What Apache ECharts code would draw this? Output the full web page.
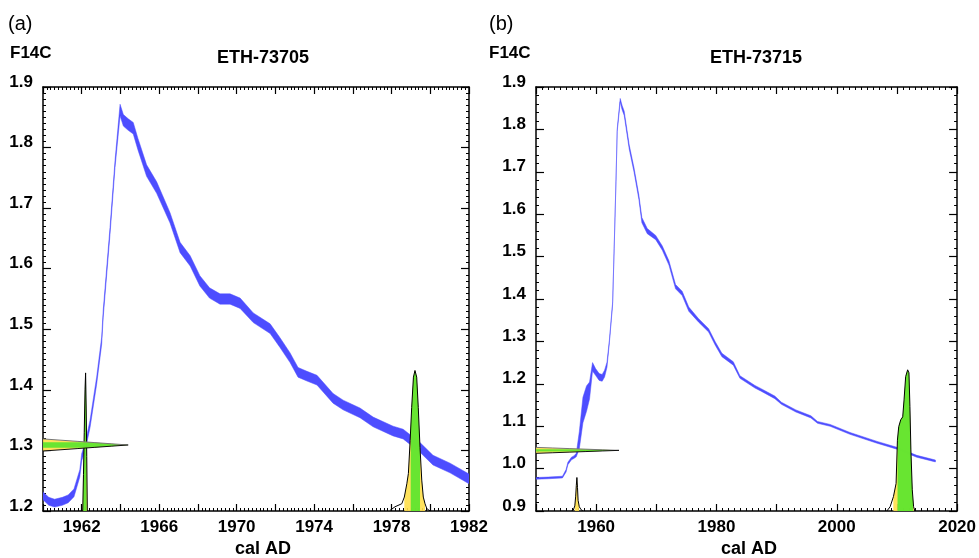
<!DOCTYPE html>
<html><head><meta charset="utf-8">
<script src="https://cdn.jsdelivr.net/npm/echarts@6/dist/echarts.min.js"></script>
<style>html,body{margin:0;padding:0;background:#fff}#c{width:979px;height:558px}</style>
</head><body><div id="c"></div>
<script>
// ---------- Panel (a): ETH-73705 ----------
const curveA_year = [1960.0,1960.3,1960.6,1961.0,1961.3,1961.6,1961.9,1962.0,1962.2,1962.43,1962.77,1963.03,1963.11,1963.46,1963.72,1963.98,1964.15,1964.4,1964.66,1964.9,1965.35,1965.87,1966.56,1967.08,1967.6,1968.1,1968.6,1969.14,1969.66,1970.18,1970.86,1971.73,1972.24,1972.76,1973.17,1973.6,1974.15,1974.98,1975.5,1976.37,1977.05,1978.08,1978.6,1979.47,1980.14,1981.02,1982.0];
const curveA_F    = [1.225,1.216,1.213,1.216,1.220,1.230,1.262,1.289,1.309,1.344,1.415,1.481,1.526,1.662,1.773,1.862,1.845,1.838,1.832,1.806,1.762,1.734,1.684,1.635,1.613,1.580,1.560,1.550,1.550,1.543,1.519,1.501,1.478,1.453,1.429,1.423,1.416,1.386,1.375,1.362,1.347,1.332,1.327,1.305,1.284,1.271,1.253];
const curveA_half = [0.0065,0.0065,0.0065,0.0065,0.0065,0.0065,0.006,0.006,0.006,0.006,0.006,0.006,0.006,0.006,0.006,0.0095,0.0095,0.0095,0.0095,0.0095,0.0095,0.0095,0.0085,0.0085,0.0085,0.0085,0.0085,0.0085,0.0085,0.0085,0.008,0.008,0.008,0.008,0.008,0.008,0.008,0.008,0.008,0.008,0.008,0.008,0.008,0.008,0.008,0.008,0.008];
// measured F14C (horizontal distribution): F values and extent in years from axis start
const measA_F   = [1.2990,1.3010,1.3030,1.3050,1.3070,1.3090,1.3110,1.3130,1.3150,1.3170,1.3190];
const measA_ext = [0.0,0.88,1.76,2.64,3.52,4.4,3.52,2.64,1.76,0.88,0.0];
const measA_green = [1.3045,1.3135];
// calibrated distributions
const calA1_year = [1962.05,1962.09,1962.13,1962.17,1962.20,1962.23,1962.26,1962.29];
const calA1_F    = [1.200,1.260,1.330,1.400,1.428,1.370,1.290,1.200];
const calA1_yellow = [1962.05,1962.29];
const calA1_green  = [1962.07,1962.25];
const calA2_year = [1977.92,1978.18,1978.53,1978.66,1978.79,1978.87,1978.96,1979.04,1979.13,1979.21,1979.30,1979.38,1979.47,1979.56,1979.64,1979.73,1979.82,1979.99];
const calA2_F    = [1.201,1.207,1.212,1.223,1.245,1.262,1.316,1.371,1.421,1.432,1.421,1.371,1.305,1.251,1.223,1.212,1.204,1.200];
const calA2_yellow = [1978.66,1979.73];
const calA2_green  = [1978.99,1979.47];

// ---------- Panel (b): ETH-73715 ----------
const curveB_year = [1950.0,1952.0,1954.4,1955.0,1955.3,1955.9,1956.3,1956.7,1957.2,1957.8,1958.4,1958.9,1959.4,1959.9,1960.5,1961.0,1961.4,1961.8,1962.2,1962.74,1963.0,1963.3,1963.5,1964.0,1964.3,1964.66,1965.5,1966.3,1967.1,1967.6,1968.5,1969.9,1971.0,1972.1,1973.2,1974.3,1975.4,1977.0,1978.7,1979.8,1980.9,1982.8,1983.9,1986.4,1987.5,1989.7,1990.8,1993.2,1995.7,1996.8,1998.9,2002.2,2006.7,2010.0,2013.3,2016.4];
const curveB_F    = [0.977,0.978,0.980,0.995,1.012,1.024,1.027,1.032,1.067,1.138,1.165,1.184,1.240,1.228,1.216,1.214,1.224,1.245,1.300,1.390,1.522,1.680,1.798,1.869,1.852,1.838,1.758,1.704,1.640,1.586,1.560,1.545,1.520,1.485,1.429,1.413,1.376,1.350,1.326,1.295,1.268,1.248,1.216,1.193,1.185,1.168,1.154,1.136,1.122,1.109,1.102,1.083,1.062,1.048,1.029,1.018];
const curveB_half = [0.002,0.002,0.002,0.003,0.003,0.003,0.003,0.004,0.02,0.03,0.03,0.02,0.01,0.008,0.008,0.008,0.008,0.006,0.003,0.003,0.003,0.003,0.003,0.004,0.005,0.005,0.005,0.005,0.005,0.006,0.006,0.005,0.005,0.005,0.005,0.005,0.005,0.004,0.004,0.004,0.004,0.004,0.003,0.003,0.003,0.003,0.0025,0.0025,0.0025,0.0022,0.0022,0.0022,0.0022,0.0022,0.0022,0.0022];
const measB_F   = [1.0360,1.0374,1.0388,1.0402,1.0416,1.0430,1.0444,1.0458,1.0472,1.0486,1.0500];
const measB_ext = [0.0,2.8,5.5,8.3,11.0,13.8,11.0,8.3,5.5,2.8,0.0];
const measB_green = [1.0404,1.0456];
const calB1_year = [1955.9,1956.2,1956.45,1956.6,1956.7,1956.8,1956.9,1957.0,1957.2,1957.5,1957.8];
const calB1_F    = [0.900,0.902,0.912,0.935,0.960,0.979,0.955,0.925,0.910,0.903,0.900];
const calB1_yellow = [1956.45,1957.15];
const calB2_year = [2008.32,2008.87,2009.42,2009.86,2010.08,2010.30,2010.63,2010.96,2011.18,2011.45,2011.78,2012.0,2012.16,2012.32,2012.55,2012.77,2012.99];
const calB2_F    = [0.900,0.910,0.934,0.965,1.067,1.099,1.115,1.122,1.162,1.217,1.233,1.226,1.146,1.044,0.950,0.910,0.900];
const calB2_yellow = [2009.4,2012.8];
const calB2_green  = [2010.1,2012.7];

// tick labels
const xLabelsA = [1962,1966,1970,1974,1978,1982];
const xLabelsB = [1960,1980,2000,2020];

const BLUE = '#4d4dff', YELLOW = '#ffdf4a', GREEN = '#58e62c';
const FONT = '"Liberation Sans", Arial, Helvetica, sans-serif';

function interp(xs, ys, x) {
  for (let i = 0; i < xs.length - 1; i++) {
    if (x >= xs[i] && x <= xs[i + 1]) {
      const t = (x - xs[i]) / (xs[i + 1] - xs[i]);
      return ys[i] + t * (ys[i + 1] - ys[i]);
    }
  }
  return x < xs[0] ? ys[0] : ys[ys.length - 1];
}
function slice(xs, ys, a, b) {
  const pts = [[a, interp(xs, ys, a)]];
  for (let i = 0; i < xs.length; i++) if (xs[i] > a && xs[i] < b) pts.push([xs[i], ys[i]]);
  pts.push([b, interp(xs, ys, b)]);
  return pts;
}

function bandSeries(ai, years, F, half) {
  return {
    type: 'custom', xAxisIndex: ai, yAxisIndex: ai, clip: true, silent: true, z: 2,
    data: [[years[0], F[0]]],
    renderItem: (params, api) => {
      const up = years.map((x, i) => api.coord([x, F[i] + half[i]]));
      const lo = years.map((x, i) => api.coord([x, F[i] - half[i]])).reverse();
      return { type: 'polygon', shape: { points: up.concat(lo) },
        style: { fill: BLUE, stroke: BLUE, lineWidth: 0.5 } };
    }
  };
}

function vertDist(ai, xs, ys, base, yel, grn) {
  return {
    type: 'custom', xAxisIndex: ai, yAxisIndex: ai, clip: true, silent: true, z: 3,
    data: [[xs[0], base]],
    renderItem: (params, api) => {
      const children = [];
      const poly = (rng, fill) => {
        const pts = [[rng[0], base]].concat(slice(xs, ys, rng[0], rng[1]), [[rng[1], base]]).map(p => api.coord(p));
        children.push({ type: 'polygon', shape: { points: pts }, style: { fill: fill, opacity: 0.9 } });
      };
      if (yel) poly(yel, YELLOW);
      if (grn) poly(grn, GREEN);
      children.push({ type: 'polyline', shape: { points: xs.map((x, i) => api.coord([x, ys[i]])) },
        style: { stroke: '#000', lineWidth: 1, fill: null } });
      return { type: 'group', children };
    }
  };
}

function horizDist(ai, Fs, ext, x0, grn) {
  return {
    type: 'custom', xAxisIndex: ai, yAxisIndex: ai, clip: true, silent: true, z: 3,
    data: [[x0, Fs[0]]],
    renderItem: (params, api) => {
      const children = [];
      const poly = (a, b, fill) => {
        const pts = [[x0, a]].concat(slice(Fs, ext, a, b).map(p => [x0 + p[1], p[0]]), [[x0, b]]).map(p => api.coord(p));
        children.push({ type: 'polygon', shape: { points: pts }, style: { fill: fill, opacity: 0.9 } });
      };
      poly(Fs[0], Fs[Fs.length - 1], YELLOW);
      poly(grn[0], grn[1], GREEN);
      const top = [], bot = [];
      const mid = ext.indexOf(Math.max(...ext));
      for (let i = mid; i < Fs.length; i++) top.push(api.coord([x0 + ext[i], Fs[i]]));
      for (let i = 0; i <= mid; i++) bot.push(api.coord([x0 + ext[i], Fs[i]]));
      children.push({ type: 'polyline', shape: { points: top }, style: { stroke: '#777', lineWidth: 1, fill: null } });
      children.push({ type: 'polyline', shape: { points: bot }, style: { stroke: '#111', lineWidth: 1, fill: null } });
      return { type: 'group', children };
    }
  };
}

function xAxisCfg(grid, min, max, interval, minor, pos, labels) {
  return {
    type: 'value', gridIndex: grid, min, max, interval, position: pos,
    axisLine: { show: true, onZero: false, lineStyle: { color: '#000', width: 1.5 } },
    axisTick: { show: true, inside: true, length: 7, lineStyle: { color: '#000', width: 1.2 } },
    minorTick: { show: true, splitNumber: minor, length: 3, lineStyle: { color: '#000', width: 1 } },
    splitLine: { show: false }, minorSplitLine: { show: false },
    axisLabel: labels ? {
      show: true, margin: 8, color: '#000', fontSize: 17, fontWeight: 'bold', fontFamily: FONT,
      showMinLabel: true, showMaxLabel: true,
      formatter: v => labels.indexOf(Math.round(v)) >= 0 ? String(Math.round(v)) : ''
    } : { show: false }
  };
}
function yAxisCfg(grid, min, max, interval, minor, pos, show) {
  return {
    type: 'value', gridIndex: grid, min, max, interval, position: pos,
    axisLine: { show: true, onZero: false, lineStyle: { color: '#000', width: 1.5 } },
    axisTick: { show: true, inside: true, length: 8, lineStyle: { color: '#000', width: 1.2 } },
    minorTick: { show: true, splitNumber: minor, length: 3, lineStyle: { color: '#000', width: 1 } },
    splitLine: { show: false }, minorSplitLine: { show: false },
    axisLabel: show ? {
      show: true, margin: 10, color: '#000', fontSize: 17, fontWeight: 'bold', fontFamily: FONT,
      showMinLabel: true, showMaxLabel: true,
      formatter: v => '{a|' + v.toFixed(1) + '}',
      rich: { a: { fontSize: 17, fontWeight: 'bold', fontFamily: FONT, color: '#000', padding: [0, 0, 10, 0] } }
    } : { show: false }
  };
}

function txt(x, y, s, size, bold, align) {
  return { type: 'text', x, y, silent: true,
    style: { text: s, fill: '#000', font: (bold ? 'bold ' : '') + size + 'px ' + FONT,
      align: align || 'left', verticalAlign: 'middle' } };
}

const chart = echarts.init(document.getElementById('c'), null, { renderer: 'canvas', width: 979, height: 558 });
chart.setOption({
  animation: false,
  backgroundColor: '#fff',
  grid: [
    { left: 43, top: 87, width: 426, height: 424, containLabel: false },
    { left: 536, top: 87, width: 425, height: 424, containLabel: false }
  ],
  xAxis: [
    xAxisCfg(0, 1960, 1982, 2, 10, 'bottom', xLabelsA),
    xAxisCfg(1, 1950, 2020, 10, 10, 'bottom', xLabelsB),
    xAxisCfg(0, 1960, 1982, 2, 10, 'top', null),
    xAxisCfg(1, 1950, 2020, 10, 10, 'top', null)
  ],
  yAxis: [
    yAxisCfg(0, 1.2, 1.9, 0.1, 10, 'left', true),
    yAxisCfg(1, 0.9, 1.9, 0.1, 5, 'left', true),
    yAxisCfg(0, 1.2, 1.9, 0.1, 10, 'right', false),
    yAxisCfg(1, 0.9, 1.9, 0.1, 5, 'right', false)
  ],
  series: [
    bandSeries(0, curveA_year, curveA_F, curveA_half),
    vertDist(0, calA1_year, calA1_F, 1.2, calA1_yellow, calA1_green),
    vertDist(0, calA2_year, calA2_F, 1.2, calA2_yellow, calA2_green),
    horizDist(0, measA_F, measA_ext, 1960, measA_green),
    bandSeries(1, curveB_year, curveB_F, curveB_half),
    vertDist(1, calB1_year, calB1_F, 0.9, calB1_yellow, null),
    vertDist(1, calB2_year, calB2_F, 0.9, calB2_yellow, calB2_green),
    horizDist(1, measB_F, measB_ext, 1950, measB_green)
  ],
  graphic: [
    txt(8, 24, '(a)', 20, false),
    txt(10, 53, 'F14C', 17, true),
    txt(263, 58, 'ETH-73705', 18, true, 'center'),
    txt(263, 549, 'cal AD', 18, true, 'center'),
    txt(489, 24, '(b)', 20, false),
    txt(489, 53, 'F14C', 17, true),
    txt(756, 58, 'ETH-73715', 18, true, 'center'),
    txt(749, 549, 'cal AD', 18, true, 'center')
  ]
});
</script>
</body></html>
